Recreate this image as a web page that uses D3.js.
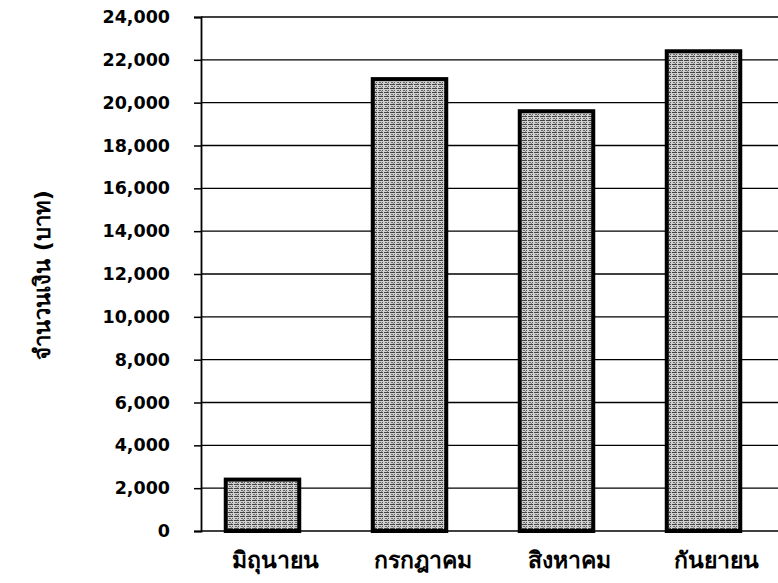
<!DOCTYPE html>
<html>
<head>
<meta charset="utf-8">
<script src="https://cdn.jsdelivr.net/npm/d3@7"></script>
<style>
  body { margin: 0; background: #fff; }
  svg { display: block; }
  .tick text { font-family: Tahoma, "DejaVu Sans", sans-serif; font-weight: bold; }
</style>
</head>
<body>
<svg width="778" height="583"></svg>
<script>
// data
var months = ["มิถุนายน", "กรกฎาคม", "สิงหาคม", "กันยายน"];
var amounts = [2400, 21100, 19600, 22400];
var yTicks = [0, 2000, 4000, 6000, 8000, 10000, 12000, 14000, 16000, 18000, 20000, 22000, 24000];
var yTitle = "จำนวนเงิน (บาท)";

var svg = d3.select("svg");
// plot edges (note: "top" is taken by window.top)
var plotL = 201, plotT = 17, plotB = 531;

// textured fill like the scanned print
var defs = svg.append("defs");
var pat = defs.append("pattern")
    .attr("id", "tex")
    .attr("patternUnits", "userSpaceOnUse")
    .attr("width", 6)
    .attr("height", 4);
pat.append("rect").attr("width", 6).attr("height", 4).attr("fill", "#cfcfcf");
pat.append("rect").attr("x", 0).attr("y", 0).attr("width", 5).attr("height", 1).attr("fill", "#444");
pat.append("rect").attr("x", 1).attr("y", 2).attr("width", 2).attr("height", 1).attr("fill", "#666");
pat.append("rect").attr("x", 4).attr("y", 2).attr("width", 1).attr("height", 1).attr("fill", "#555");
pat.append("rect").attr("x", 3).attr("y", 3).attr("width", 1).attr("height", 1).attr("fill", "#888");

var x = d3.scaleBand()
    .domain(months)
    .range([189, 777])
    .paddingInner(0.5)
    .paddingOuter(0.25);

var y = d3.scaleLinear()
    .domain([0, 24000])
    .range([plotB, plotT]);

// gridlines
svg.append("g")
    .selectAll("line")
    .data(yTicks)
    .enter()
    .append("line")
    .attr("x1", plotL)
    .attr("x2", 778)
    .attr("y1", function(d) { return y(d); })
    .attr("y2", function(d) { return y(d); })
    .attr("stroke", "#000")
    .attr("stroke-width", 1.3);

// y axis
var yAxis = d3.axisLeft(y)
    .tickValues(yTicks)
    .tickSize(7)
    .tickPadding(24)
    .tickFormat(d3.format(","));

svg.append("g")
    .attr("transform", "translate(" + plotL + ",0)")
    .call(yAxis)
    .call(function(g) {
        g.select(".domain").attr("stroke-width", 1.8);
        g.selectAll(".tick line").attr("stroke-width", 1.5);
        g.selectAll("text").attr("font-size", 17.5).attr("fill", "#000");
    });

// bars
svg.append("g")
    .selectAll("rect")
    .data(amounts)
    .enter()
    .append("rect")
    .attr("x", function(d, i) { return x(months[i]); })
    .attr("y", function(d) { return y(d); })
    .attr("width", x.bandwidth())
    .attr("height", function(d) { return y(0) - y(d); })
    .attr("fill", "url(#tex)")
    .attr("stroke", "#000")
    .attr("stroke-width", 4);

// x axis labels (sit a little right of the bars in the original)
var xAxis = d3.axisBottom(x).tickSize(0).tickPadding(21);
svg.append("g")
    .attr("transform", "translate(0," + plotB + ")")
    .call(xAxis)
    .call(function(g) {
        g.select(".domain").remove();
        g.selectAll("text").attr("font-size", 23).attr("fill", "#000").attr("dx", 13);
    });

// y title
svg.append("text")
    .attr("transform", "translate(50," + (275) + ") rotate(-90)")
    .attr("text-anchor", "middle")
    .attr("font-family", "Tahoma, 'DejaVu Sans', sans-serif")
    .attr("font-weight", "bold")
    .attr("font-size", 22)
    .text(yTitle);
</script>
</body>
</html>
